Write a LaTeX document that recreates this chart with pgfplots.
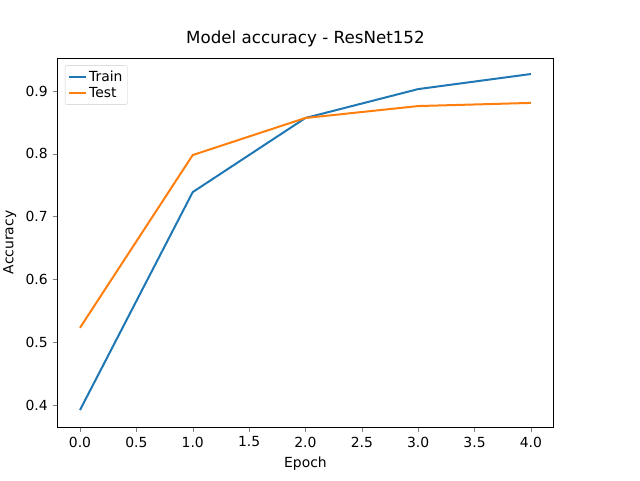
\documentclass[border=0pt]{standalone}
\usepackage{pgfplots}
\pgfplotsset{compat=1.18}
\usepackage{fontspec}
\setmainfont{DejaVu Sans}
\definecolor{c1}{HTML}{1F77B4}
\definecolor{c2}{HTML}{FF7F0E}
\begin{document}
\fontsize{13.9}{16}\selectfont
\begin{tikzpicture}
\begin{axis}[
  at={(0,0)}, anchor=origin,
  scale only axis, width=496pt, height=369pt,
  xmin=-0.2, xmax=4.2, ymin=0.365, ymax=0.9525,
  xtick={0,0.5,...,4}, ytick={0.4,0.5,...,0.9},
  xticklabels={0.0,0.5,1.0,1.5,2.0,2.5,3.0,3.5,4.0},
  yticklabel style={/pgf/number format/.cd,fixed,precision=1,fixed zerofill},
  /pgf/number format/assume math mode=true,
  tick align=outside, tick pos=left,
  major tick length=4.9pt,
  ticklabel style={font=\fontsize{13.9}{16}\selectfont},
  xlabel={Epoch}, ylabel={Accuracy},
  label style={font=\fontsize{13.9}{16}\selectfont},
  title={Model accuracy - ResNet152},
  title style={font=\fontsize{16.7}{19}\selectfont},
  legend style={font=\fontsize{13.9}{16}\selectfont, draw=gray!40, rounded corners=2pt, at={(0.015,0.98)}, anchor=north west, inner sep=3pt},
  legend cell align=left,
]
\addplot[c1, line width=2pt] coordinates {(0,0.392)(1,0.739)(2,0.857)(3,0.903)(4,0.927)};
\addlegendentry{Train}
\addplot[c2, line width=2pt] coordinates {(0,0.523)(1,0.798)(2,0.857)(3,0.876)(4,0.881)};
\addlegendentry{Test}
\end{axis}
\pgfresetboundingbox
\useasboundingbox (-80pt,-53pt) rectangle (560pt,427pt);
\end{tikzpicture}
\end{document}
